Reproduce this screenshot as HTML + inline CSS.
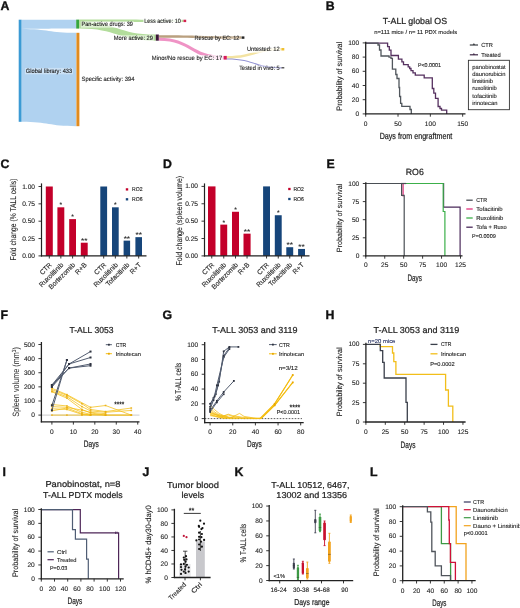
<!DOCTYPE html>
<html><head><meta charset="utf-8"><style>
html,body{margin:0;padding:0;background:#fff;overflow:hidden;}
svg{display:block;will-change:transform;}
text{font-family:"Liberation Sans", sans-serif;text-rendering:geometricPrecision;}
</style></head><body>
<svg width="520" height="608" viewBox="0 0 520 608">
<rect x="0" y="0" width="520" height="608" fill="#fff"/>
<g fill="#1f1f1f">
<text x="0.40" y="9.90" font-size="12.3" fill="#111" font-weight="bold" stroke="#111" stroke-width="0.35">A</text>
<path d="M21.50,19.70 C48.85,19.70 48.85,19.70 76.20,19.70 L76.20,28.60 C48.85,28.60 48.85,28.90 21.50,28.90 Z" fill="#b0d2f0" stroke="none" stroke-width="1" />
<path d="M21.50,28.90 C48.85,28.90 48.85,32.80 76.20,32.80 L76.20,126.20 C48.85,126.20 48.85,121.80 21.50,121.80 Z" fill="#b0d2f0" stroke="none" stroke-width="1" />
<rect x="18.70" y="19.70" width="2.80" height="102.10" fill="#3b9ad4" />
<rect x="76.20" y="19.60" width="2.80" height="9.00" fill="#36a53f" />
<rect x="76.40" y="32.80" width="3.00" height="93.40" fill="#e08b20" />
<path d="M79.00,19.60 C131.25,19.60 131.25,19.80 183.50,19.80 L183.50,22.10 C131.25,22.10 131.25,21.90 79.00,21.90 Z" fill="#b3dd9c" stroke="none" stroke-width="1" />
<path d="M79.00,21.90 C117.40,21.90 117.40,34.50 155.80,34.50 L155.80,40.70 C117.40,40.70 117.40,28.60 79.00,28.60 Z" fill="#b3dd9c" stroke="none" stroke-width="1" />
<path d="M159.00,35.20 C200.15,35.20 200.15,36.30 241.30,36.30 L241.30,38.80 C200.15,38.80 200.15,37.80 159.00,37.80 Z" fill="#b9a07f" stroke="none" stroke-width="1" />
<path d="M159.00,37.80 C191.40,37.80 191.40,55.90 223.80,55.90 L223.80,59.60 C191.40,59.60 191.40,40.70 159.00,40.70 Z" fill="#ef93c5" stroke="none" stroke-width="1" />
<path d="M226.80,55.90 C254.15,55.90 254.15,48.00 281.50,48.00 L281.50,50.50 C254.15,50.50 254.15,58.40 226.80,58.40 Z" fill="#f3e3a2" stroke="none" stroke-width="1" />
<path d="M226.80,58.40 C254.15,58.40 254.15,67.20 281.50,67.20 L281.50,68.40 C254.15,68.40 254.15,59.60 226.80,59.60 Z" fill="#9090d2" stroke="none" stroke-width="1" />
<rect x="183.50" y="19.70" width="2.70" height="2.40" fill="#d3204f" />
<rect x="155.80" y="34.50" width="3.00" height="6.20" fill="#3c1638" />
<rect x="241.60" y="36.40" width="2.80" height="2.40" fill="#222" />
<rect x="223.80" y="55.90" width="3.00" height="3.70" fill="#d61c5a" />
<rect x="281.50" y="48.00" width="2.80" height="2.50" fill="#f0c030" />
<rect x="281.50" y="67.20" width="2.80" height="1.20" fill="#333" />
<rect x="25.00" y="67.90" width="48.00" height="6.40" fill="#fff" fill-opacity="0.35"/>
<text x="49.00" y="72.80" font-size="6.2" text-anchor="middle" textLength="46.40" lengthAdjust="spacingAndGlyphs"  stroke="#1f1f1f" stroke-width="0.12">Global library: 433</text>
<text x="81.50" y="80.90" font-size="6.2" textLength="53.00" lengthAdjust="spacingAndGlyphs"  stroke="#1f1f1f" stroke-width="0.12">Specific activity: 394</text>
<rect x="80.70" y="21.30" width="53.10" height="6.40" fill="#fff" fill-opacity="0.55"/>
<text x="81.50" y="26.20" font-size="6.2" textLength="51.50" lengthAdjust="spacingAndGlyphs"  stroke="#1f1f1f" stroke-width="0.12">Pan-active drugs: 39</text>
<rect x="143.40" y="17.90" width="38.20" height="6.40" fill="#fff" fill-opacity="0.85"/>
<text x="144.20" y="22.80" font-size="6.2" textLength="36.60" lengthAdjust="spacingAndGlyphs"  stroke="#1f1f1f" stroke-width="0.12">Less active: 10</text>
<rect x="113.00" y="35.20" width="40.80" height="6.40" fill="#fff" fill-opacity="0.55"/>
<text x="113.80" y="40.10" font-size="6.2" textLength="39.20" lengthAdjust="spacingAndGlyphs"  stroke="#1f1f1f" stroke-width="0.12">More active: 29</text>
<rect x="193.80" y="34.70" width="46.40" height="6.40" fill="#fff" fill-opacity="0.25"/>
<text x="194.60" y="39.60" font-size="6.2" textLength="44.80" lengthAdjust="spacingAndGlyphs"  stroke="#1f1f1f" stroke-width="0.12">Rescue by EC: 12</text>
<rect x="151.00" y="55.20" width="72.10" height="6.40" fill="#fff" fill-opacity="0.8"/>
<text x="151.80" y="60.10" font-size="6.2" textLength="70.50" lengthAdjust="spacingAndGlyphs"  stroke="#1f1f1f" stroke-width="0.12">Minor/No rescue by EC: 17</text>
<rect x="246.10" y="46.30" width="34.40" height="6.40" fill="#fff" fill-opacity="0.8"/>
<text x="246.90" y="51.20" font-size="6.2" textLength="32.80" lengthAdjust="spacingAndGlyphs"  stroke="#1f1f1f" stroke-width="0.12">Untested: 12</text>
<rect x="238.40" y="64.90" width="42.10" height="6.40" fill="#fff" fill-opacity="0.35"/>
<text x="239.20" y="69.80" font-size="6.2" textLength="40.50" lengthAdjust="spacingAndGlyphs"  stroke="#1f1f1f" stroke-width="0.12">Tested in vivo: 5</text>
<text x="325.80" y="9.90" font-size="12.3" fill="#111" font-weight="bold" stroke="#111" stroke-width="0.35">B</text>
<text x="414.90" y="24.40" font-size="8.8" text-anchor="middle" textLength="64.50" lengthAdjust="spacingAndGlyphs"  stroke="#1f1f1f" stroke-width="0.22">T-ALL global OS</text>
<text x="415.70" y="33.90" font-size="5.7" text-anchor="middle" textLength="83.00" lengthAdjust="spacingAndGlyphs"  stroke="#1f1f1f" stroke-width="0.12">n=111 mice / n= 11 PDX models</text>
<polyline points="365.70,43.20 387.60,43.20 387.60,46.60 389.30,46.60 389.30,50.20 391.00,50.20 391.00,55.50 398.40,55.50 398.40,59.20 401.90,59.20 401.90,61.90 403.50,61.90 403.50,64.60 408.20,64.60 408.20,66.80 409.70,66.80 409.70,68.50 411.00,68.50 411.00,70.60 413.00,70.60 413.00,72.80 415.30,72.80 415.30,75.20 424.20,75.20 424.20,77.90 432.30,77.90 432.30,88.50 433.80,88.50 433.80,93.20 435.50,93.20 435.50,98.40 438.10,98.40 438.10,106.50 440.00,106.50 440.00,108.50 441.50,108.50 441.50,110.20 446.70,110.20 446.70,113.90" fill="none" stroke="#55305f" stroke-width="1.3" />
<polyline points="365.70,43.20 378.00,43.20 378.00,45.00 379.50,45.00 379.50,50.00 381.00,50.00 381.00,56.00 389.00,56.00 389.00,57.20 391.00,57.20 391.00,58.30 392.40,58.30 392.40,69.10 395.80,69.10 395.80,74.50 397.00,74.50 397.00,78.50 399.00,78.50 399.00,87.50 399.60,87.50 399.60,96.50 400.60,96.50 400.60,103.40 401.80,103.40 401.80,106.30 410.00,106.30 410.00,109.50 411.30,109.50 411.30,113.90" fill="none" stroke="#50565c" stroke-width="1.3" />
<line x1="365.70" y1="41.80" x2="365.70" y2="114.50" stroke="#222" stroke-width="1.3" />
<line x1="365.10" y1="113.90" x2="465.50" y2="113.90" stroke="#222" stroke-width="1.3" />
<line x1="362.70" y1="113.90" x2="365.70" y2="113.90" stroke="#222" stroke-width="0.9" />
<text x="359.20" y="115.98" font-size="6.6" text-anchor="end"  stroke="#1f1f1f" stroke-width="0.12">0</text>
<line x1="362.70" y1="99.70" x2="365.70" y2="99.70" stroke="#222" stroke-width="0.9" />
<text x="359.20" y="101.78" font-size="6.6" text-anchor="end"  stroke="#1f1f1f" stroke-width="0.12">20</text>
<line x1="362.70" y1="85.50" x2="365.70" y2="85.50" stroke="#222" stroke-width="0.9" />
<text x="359.20" y="87.58" font-size="6.6" text-anchor="end"  stroke="#1f1f1f" stroke-width="0.12">40</text>
<line x1="362.70" y1="71.30" x2="365.70" y2="71.30" stroke="#222" stroke-width="0.9" />
<text x="359.20" y="73.38" font-size="6.6" text-anchor="end"  stroke="#1f1f1f" stroke-width="0.12">60</text>
<line x1="362.70" y1="57.10" x2="365.70" y2="57.10" stroke="#222" stroke-width="0.9" />
<text x="359.20" y="59.18" font-size="6.6" text-anchor="end"  stroke="#1f1f1f" stroke-width="0.12">80</text>
<line x1="362.70" y1="42.90" x2="365.70" y2="42.90" stroke="#222" stroke-width="0.9" />
<text x="359.20" y="44.98" font-size="6.6" text-anchor="end"  stroke="#1f1f1f" stroke-width="0.12">100</text>
<line x1="365.70" y1="113.90" x2="365.70" y2="116.70" stroke="#222" stroke-width="0.9" />
<text x="365.70" y="125.78" font-size="6.6" text-anchor="middle"  stroke="#1f1f1f" stroke-width="0.12">0</text>
<line x1="398.02" y1="113.90" x2="398.02" y2="116.70" stroke="#222" stroke-width="0.9" />
<text x="398.02" y="125.78" font-size="6.6" text-anchor="middle"  stroke="#1f1f1f" stroke-width="0.12">50</text>
<line x1="430.35" y1="113.90" x2="430.35" y2="116.70" stroke="#222" stroke-width="0.9" />
<text x="430.35" y="125.78" font-size="6.6" text-anchor="middle"  stroke="#1f1f1f" stroke-width="0.12">100</text>
<line x1="462.67" y1="113.90" x2="462.67" y2="116.70" stroke="#222" stroke-width="0.9" />
<text x="462.67" y="125.78" font-size="6.6" text-anchor="middle"  stroke="#1f1f1f" stroke-width="0.12">150</text>
<text x="416.00" y="138.90" font-size="8.8" text-anchor="middle" textLength="72.70" lengthAdjust="spacingAndGlyphs"  stroke="#1f1f1f" stroke-width="0.22">Days from engraftment</text>
<text x="342.30" y="76.20" font-size="7.9" text-anchor="middle" textLength="69.00" lengthAdjust="spacingAndGlyphs" transform="rotate(-90 342.30 76.20)"  stroke="#1f1f1f" stroke-width="0.12">Probability of survival</text>
<text x="417.90" y="67.10" font-size="5.6" textLength="23.10" lengthAdjust="spacingAndGlyphs"  stroke="#1f1f1f" stroke-width="0.12">P&lt;0.0001</text>
<line x1="469.80" y1="45.00" x2="478.00" y2="45.00" stroke="#3a3d42" stroke-width="1.2" />
<path d="M472.7,45.00 L473.9,43.10 L475.1,45.00 Z" fill="#3a3d42" stroke="none" stroke-width="1" />
<line x1="469.80" y1="54.80" x2="478.00" y2="54.80" stroke="#3d2645" stroke-width="1.2" />
<path d="M472.7,54.80 L473.9,52.90 L475.1,54.80 Z" fill="#3d2645" stroke="none" stroke-width="1" />
<text x="481.20" y="46.60" font-size="5.9" textLength="11.60" lengthAdjust="spacingAndGlyphs"  stroke="#1f1f1f" stroke-width="0.12">CTR</text>
<text x="481.20" y="56.50" font-size="5.9" textLength="19.50" lengthAdjust="spacingAndGlyphs"  stroke="#1f1f1f" stroke-width="0.12">Treated</text>
<rect x="468.40" y="60.30" width="41.00" height="49.40" fill="none" stroke="#333" stroke-width="0.9"/>
<text x="472.30" y="68.50" font-size="5.8"  stroke="#1f1f1f" stroke-width="0.12">panobinostat</text>
<text x="472.30" y="75.75" font-size="5.8"  stroke="#1f1f1f" stroke-width="0.12">daunorubicin</text>
<text x="472.30" y="83.00" font-size="5.8"  stroke="#1f1f1f" stroke-width="0.12">linsitinib</text>
<text x="472.30" y="90.25" font-size="5.8"  stroke="#1f1f1f" stroke-width="0.12">ruxolitinib</text>
<text x="472.30" y="97.50" font-size="5.8"  stroke="#1f1f1f" stroke-width="0.12">tofacitinib</text>
<text x="472.30" y="104.75" font-size="5.8"  stroke="#1f1f1f" stroke-width="0.12">irinotecan</text>
<text x="0.60" y="167.70" font-size="12.3" fill="#111" font-weight="bold" stroke="#111" stroke-width="0.35">C</text>
<rect x="45.80" y="186.50" width="7.00" height="69.40" fill="#c3002a" />
<rect x="57.40" y="207.32" width="6.90" height="48.58" fill="#c3002a" />
<text x="60.85" y="207.22" font-size="7.0" text-anchor="middle" fill="#333" font-weight="bold" textLength="2.60" lengthAdjust="spacingAndGlyphs" >*</text>
<rect x="69.20" y="219.12" width="6.80" height="36.78" fill="#c3002a" />
<text x="72.60" y="219.02" font-size="7.0" text-anchor="middle" fill="#333" font-weight="bold" textLength="2.60" lengthAdjust="spacingAndGlyphs" >*</text>
<rect x="80.80" y="242.71" width="6.90" height="13.19" fill="#c3002a" />
<text x="84.25" y="242.61" font-size="7.0" text-anchor="middle" fill="#333" font-weight="bold" textLength="6.40" lengthAdjust="spacingAndGlyphs" >**</text>
<rect x="100.30" y="186.50" width="6.80" height="69.40" fill="#16457a" />
<rect x="112.00" y="207.32" width="6.70" height="48.58" fill="#16457a" />
<text x="115.35" y="207.22" font-size="7.0" text-anchor="middle" fill="#333" font-weight="bold" textLength="2.60" lengthAdjust="spacingAndGlyphs" >*</text>
<rect x="123.60" y="240.63" width="6.50" height="15.27" fill="#16457a" />
<text x="126.85" y="240.53" font-size="7.0" text-anchor="middle" fill="#333" font-weight="bold" textLength="6.40" lengthAdjust="spacingAndGlyphs" >**</text>
<rect x="135.40" y="237.16" width="6.60" height="18.74" fill="#16457a" />
<text x="138.70" y="237.06" font-size="7.0" text-anchor="middle" fill="#333" font-weight="bold" textLength="6.40" lengthAdjust="spacingAndGlyphs" >**</text>
<line x1="41.50" y1="183.40" x2="41.50" y2="256.50" stroke="#222" stroke-width="1.2" />
<line x1="40.90" y1="255.90" x2="146.50" y2="255.90" stroke="#222" stroke-width="1.2" />
<line x1="38.50" y1="255.90" x2="41.50" y2="255.90" stroke="#222" stroke-width="0.9" />
<text x="35.00" y="257.98" font-size="6.6" text-anchor="end"  stroke="#1f1f1f" stroke-width="0.12">0.00</text>
<line x1="38.50" y1="238.55" x2="41.50" y2="238.55" stroke="#222" stroke-width="0.9" />
<text x="35.00" y="240.63" font-size="6.6" text-anchor="end"  stroke="#1f1f1f" stroke-width="0.12">0.25</text>
<line x1="38.50" y1="221.20" x2="41.50" y2="221.20" stroke="#222" stroke-width="0.9" />
<text x="35.00" y="223.28" font-size="6.6" text-anchor="end"  stroke="#1f1f1f" stroke-width="0.12">0.50</text>
<line x1="38.50" y1="203.85" x2="41.50" y2="203.85" stroke="#222" stroke-width="0.9" />
<text x="35.00" y="205.93" font-size="6.6" text-anchor="end"  stroke="#1f1f1f" stroke-width="0.12">0.75</text>
<line x1="38.50" y1="186.50" x2="41.50" y2="186.50" stroke="#222" stroke-width="0.9" />
<text x="35.00" y="188.58" font-size="6.6" text-anchor="end"  stroke="#1f1f1f" stroke-width="0.12">1.00</text>
<line x1="49.30" y1="255.90" x2="49.30" y2="258.50" stroke="#222" stroke-width="0.9" />
<text x="52.30" y="265.40" font-size="6.8" text-anchor="end" transform="rotate(-45 52.30 265.40)"  stroke="#1f1f1f" stroke-width="0.12">CTR</text>
<line x1="60.85" y1="255.90" x2="60.85" y2="258.50" stroke="#222" stroke-width="0.9" />
<text x="63.85" y="265.40" font-size="6.8" text-anchor="end" transform="rotate(-45 63.85 265.40)"  stroke="#1f1f1f" stroke-width="0.12">Ruxolitinib</text>
<line x1="72.60" y1="255.90" x2="72.60" y2="258.50" stroke="#222" stroke-width="0.9" />
<text x="75.60" y="265.40" font-size="6.8" text-anchor="end" transform="rotate(-45 75.60 265.40)"  stroke="#1f1f1f" stroke-width="0.12">Bortezomib</text>
<line x1="84.25" y1="255.90" x2="84.25" y2="258.50" stroke="#222" stroke-width="0.9" />
<text x="87.25" y="265.40" font-size="6.8" text-anchor="end" transform="rotate(-45 87.25 265.40)"  stroke="#1f1f1f" stroke-width="0.12">R+B</text>
<line x1="103.70" y1="255.90" x2="103.70" y2="258.50" stroke="#222" stroke-width="0.9" />
<text x="106.70" y="265.40" font-size="6.8" text-anchor="end" transform="rotate(-45 106.70 265.40)"  stroke="#1f1f1f" stroke-width="0.12">CTR</text>
<line x1="115.35" y1="255.90" x2="115.35" y2="258.50" stroke="#222" stroke-width="0.9" />
<text x="118.35" y="265.40" font-size="6.8" text-anchor="end" transform="rotate(-45 118.35 265.40)"  stroke="#1f1f1f" stroke-width="0.12">Ruxolitinib</text>
<line x1="126.85" y1="255.90" x2="126.85" y2="258.50" stroke="#222" stroke-width="0.9" />
<text x="129.85" y="265.40" font-size="6.8" text-anchor="end" transform="rotate(-45 129.85 265.40)"  stroke="#1f1f1f" stroke-width="0.12">Tofacitinib</text>
<line x1="138.70" y1="255.90" x2="138.70" y2="258.50" stroke="#222" stroke-width="0.9" />
<text x="141.70" y="265.40" font-size="6.8" text-anchor="end" transform="rotate(-45 141.70 265.40)"  stroke="#1f1f1f" stroke-width="0.12">R+T</text>
<rect x="125.80" y="188.25" width="2.40" height="2.30" fill="#c3002a" />
<rect x="125.80" y="198.15" width="2.40" height="2.30" fill="#16457a" />
<text x="132.10" y="191.40" font-size="5.6" textLength="10.50" lengthAdjust="spacingAndGlyphs"  stroke="#1f1f1f" stroke-width="0.12">RO2</text>
<text x="132.10" y="201.30" font-size="5.6" textLength="10.50" lengthAdjust="spacingAndGlyphs"  stroke="#1f1f1f" stroke-width="0.12">RO6</text>
<text x="15.60" y="219.60" font-size="8.4" text-anchor="middle" textLength="82.00" lengthAdjust="spacingAndGlyphs" transform="rotate(-90 15.60 219.60)"  stroke="#1f1f1f" stroke-width="0.12">Fold change (% TALL cells)</text>
<text x="163.00" y="168.10" font-size="12.3" fill="#111" font-weight="bold" stroke="#111" stroke-width="0.35">D</text>
<rect x="208.00" y="186.40" width="7.50" height="69.50" fill="#c3002a" />
<rect x="220.30" y="224.62" width="6.90" height="31.28" fill="#c3002a" />
<text x="223.75" y="224.53" font-size="7.0" text-anchor="middle" fill="#333" font-weight="bold" textLength="2.60" lengthAdjust="spacingAndGlyphs" >*</text>
<rect x="232.00" y="211.77" width="7.00" height="44.13" fill="#c3002a" />
<text x="235.50" y="211.67" font-size="7.0" text-anchor="middle" fill="#333" font-weight="bold" textLength="2.60" lengthAdjust="spacingAndGlyphs" >*</text>
<rect x="243.50" y="233.66" width="7.10" height="22.24" fill="#c3002a" />
<text x="247.05" y="233.56" font-size="7.0" text-anchor="middle" fill="#333" font-weight="bold" textLength="6.40" lengthAdjust="spacingAndGlyphs" >**</text>
<rect x="263.10" y="186.40" width="6.90" height="69.50" fill="#16457a" />
<rect x="274.80" y="215.24" width="6.90" height="40.66" fill="#16457a" />
<text x="278.25" y="215.14" font-size="7.0" text-anchor="middle" fill="#333" font-weight="bold" textLength="2.60" lengthAdjust="spacingAndGlyphs" >*</text>
<rect x="286.30" y="247.21" width="6.90" height="8.69" fill="#16457a" />
<text x="289.75" y="247.11" font-size="7.0" text-anchor="middle" fill="#333" font-weight="bold" textLength="6.40" lengthAdjust="spacingAndGlyphs" >**</text>
<rect x="298.10" y="248.95" width="6.90" height="6.95" fill="#16457a" />
<text x="301.55" y="248.85" font-size="7.0" text-anchor="middle" fill="#333" font-weight="bold" textLength="6.40" lengthAdjust="spacingAndGlyphs" >**</text>
<line x1="204.50" y1="183.40" x2="204.50" y2="256.50" stroke="#222" stroke-width="1.2" />
<line x1="203.90" y1="255.90" x2="309.50" y2="255.90" stroke="#222" stroke-width="1.2" />
<line x1="201.50" y1="255.90" x2="204.50" y2="255.90" stroke="#222" stroke-width="0.9" />
<text x="198.00" y="257.98" font-size="6.6" text-anchor="end"  stroke="#1f1f1f" stroke-width="0.12">0.00</text>
<line x1="201.50" y1="238.53" x2="204.50" y2="238.53" stroke="#222" stroke-width="0.9" />
<text x="198.00" y="240.60" font-size="6.6" text-anchor="end"  stroke="#1f1f1f" stroke-width="0.12">0.25</text>
<line x1="201.50" y1="221.15" x2="204.50" y2="221.15" stroke="#222" stroke-width="0.9" />
<text x="198.00" y="223.23" font-size="6.6" text-anchor="end"  stroke="#1f1f1f" stroke-width="0.12">0.50</text>
<line x1="201.50" y1="203.78" x2="204.50" y2="203.78" stroke="#222" stroke-width="0.9" />
<text x="198.00" y="205.85" font-size="6.6" text-anchor="end"  stroke="#1f1f1f" stroke-width="0.12">0.75</text>
<line x1="201.50" y1="186.40" x2="204.50" y2="186.40" stroke="#222" stroke-width="0.9" />
<text x="198.00" y="188.48" font-size="6.6" text-anchor="end"  stroke="#1f1f1f" stroke-width="0.12">1.00</text>
<line x1="211.75" y1="255.90" x2="211.75" y2="258.50" stroke="#222" stroke-width="0.9" />
<text x="214.75" y="265.40" font-size="6.8" text-anchor="end" transform="rotate(-45 214.75 265.40)"  stroke="#1f1f1f" stroke-width="0.12">CTR</text>
<line x1="223.75" y1="255.90" x2="223.75" y2="258.50" stroke="#222" stroke-width="0.9" />
<text x="226.75" y="265.40" font-size="6.8" text-anchor="end" transform="rotate(-45 226.75 265.40)"  stroke="#1f1f1f" stroke-width="0.12">Ruxolitinib</text>
<line x1="235.50" y1="255.90" x2="235.50" y2="258.50" stroke="#222" stroke-width="0.9" />
<text x="238.50" y="265.40" font-size="6.8" text-anchor="end" transform="rotate(-45 238.50 265.40)"  stroke="#1f1f1f" stroke-width="0.12">Bortezomib</text>
<line x1="247.05" y1="255.90" x2="247.05" y2="258.50" stroke="#222" stroke-width="0.9" />
<text x="250.05" y="265.40" font-size="6.8" text-anchor="end" transform="rotate(-45 250.05 265.40)"  stroke="#1f1f1f" stroke-width="0.12">R+B</text>
<line x1="266.55" y1="255.90" x2="266.55" y2="258.50" stroke="#222" stroke-width="0.9" />
<text x="269.55" y="265.40" font-size="6.8" text-anchor="end" transform="rotate(-45 269.55 265.40)"  stroke="#1f1f1f" stroke-width="0.12">CTR</text>
<line x1="278.25" y1="255.90" x2="278.25" y2="258.50" stroke="#222" stroke-width="0.9" />
<text x="281.25" y="265.40" font-size="6.8" text-anchor="end" transform="rotate(-45 281.25 265.40)"  stroke="#1f1f1f" stroke-width="0.12">Ruxolitinib</text>
<line x1="289.75" y1="255.90" x2="289.75" y2="258.50" stroke="#222" stroke-width="0.9" />
<text x="292.75" y="265.40" font-size="6.8" text-anchor="end" transform="rotate(-45 292.75 265.40)"  stroke="#1f1f1f" stroke-width="0.12">Tofacitinib</text>
<line x1="301.55" y1="255.90" x2="301.55" y2="258.50" stroke="#222" stroke-width="0.9" />
<text x="304.55" y="265.40" font-size="6.8" text-anchor="end" transform="rotate(-45 304.55 265.40)"  stroke="#1f1f1f" stroke-width="0.12">R+T</text>
<rect x="288.20" y="187.85" width="2.40" height="2.30" fill="#c3002a" />
<rect x="288.20" y="197.85" width="2.40" height="2.30" fill="#16457a" />
<text x="293.40" y="191.00" font-size="5.6" textLength="10.50" lengthAdjust="spacingAndGlyphs"  stroke="#1f1f1f" stroke-width="0.12">RO2</text>
<text x="293.40" y="201.00" font-size="5.6" textLength="10.50" lengthAdjust="spacingAndGlyphs"  stroke="#1f1f1f" stroke-width="0.12">RO6</text>
<text x="181.60" y="220.60" font-size="8.4" text-anchor="middle" textLength="89.60" lengthAdjust="spacingAndGlyphs" transform="rotate(-90 181.60 220.60)"  stroke="#1f1f1f" stroke-width="0.12">Fold change (spleen volume)</text>
<text x="326.60" y="167.70" font-size="12.3" fill="#111" font-weight="bold" stroke="#111" stroke-width="0.35">E</text>
<text x="414.80" y="175.00" font-size="9.0" text-anchor="middle" textLength="18.00" lengthAdjust="spacingAndGlyphs"  stroke="#1f1f1f" stroke-width="0.22">RO6</text>
<polyline points="365.80,183.50 443.60,183.50 443.60,207.20 460.10,207.20 460.10,255.90" fill="none" stroke="#4a2a5a" stroke-width="1.2" />
<polyline points="365.80,183.50 443.20,183.50 443.20,211.50 444.90,211.50 444.90,255.90" fill="none" stroke="#3cb04a" stroke-width="1.2" />
<polyline points="365.80,183.50 403.10,183.50 403.10,196.60" fill="none" stroke="#e0307a" stroke-width="1.2" />
<polyline points="365.80,183.50 401.60,183.50 401.60,195.40 404.20,195.40 404.20,255.90" fill="none" stroke="#4a4f55" stroke-width="1.2" />
<line x1="401.00" y1="183.50" x2="406.30" y2="183.50" stroke="#4a4f55" stroke-width="1.2" />
<line x1="365.80" y1="182.30" x2="365.80" y2="256.50" stroke="#222" stroke-width="1.3" />
<line x1="365.20" y1="255.90" x2="462.50" y2="255.90" stroke="#222" stroke-width="1.3" />
<line x1="362.80" y1="255.90" x2="365.80" y2="255.90" stroke="#222" stroke-width="0.9" />
<text x="359.30" y="257.98" font-size="6.6" text-anchor="end"  stroke="#1f1f1f" stroke-width="0.12">0</text>
<line x1="362.80" y1="237.80" x2="365.80" y2="237.80" stroke="#222" stroke-width="0.9" />
<text x="359.30" y="239.88" font-size="6.6" text-anchor="end"  stroke="#1f1f1f" stroke-width="0.12">25</text>
<line x1="362.80" y1="219.70" x2="365.80" y2="219.70" stroke="#222" stroke-width="0.9" />
<text x="359.30" y="221.78" font-size="6.6" text-anchor="end"  stroke="#1f1f1f" stroke-width="0.12">50</text>
<line x1="362.80" y1="201.60" x2="365.80" y2="201.60" stroke="#222" stroke-width="0.9" />
<text x="359.30" y="203.68" font-size="6.6" text-anchor="end"  stroke="#1f1f1f" stroke-width="0.12">75</text>
<line x1="362.80" y1="183.50" x2="365.80" y2="183.50" stroke="#222" stroke-width="0.9" />
<text x="359.30" y="185.58" font-size="6.6" text-anchor="end"  stroke="#1f1f1f" stroke-width="0.12">100</text>
<line x1="365.80" y1="255.90" x2="365.80" y2="258.70" stroke="#222" stroke-width="0.9" />
<text x="365.80" y="267.38" font-size="6.6" text-anchor="middle"  stroke="#1f1f1f" stroke-width="0.12">0</text>
<line x1="384.74" y1="255.90" x2="384.74" y2="258.70" stroke="#222" stroke-width="0.9" />
<text x="384.74" y="267.38" font-size="6.6" text-anchor="middle"  stroke="#1f1f1f" stroke-width="0.12">25</text>
<line x1="403.68" y1="255.90" x2="403.68" y2="258.70" stroke="#222" stroke-width="0.9" />
<text x="403.68" y="267.38" font-size="6.6" text-anchor="middle"  stroke="#1f1f1f" stroke-width="0.12">50</text>
<line x1="422.62" y1="255.90" x2="422.62" y2="258.70" stroke="#222" stroke-width="0.9" />
<text x="422.62" y="267.38" font-size="6.6" text-anchor="middle"  stroke="#1f1f1f" stroke-width="0.12">75</text>
<line x1="441.56" y1="255.90" x2="441.56" y2="258.70" stroke="#222" stroke-width="0.9" />
<text x="441.56" y="267.38" font-size="6.6" text-anchor="middle"  stroke="#1f1f1f" stroke-width="0.12">100</text>
<line x1="460.50" y1="255.90" x2="460.50" y2="258.70" stroke="#222" stroke-width="0.9" />
<text x="460.50" y="267.38" font-size="6.6" text-anchor="middle"  stroke="#1f1f1f" stroke-width="0.12">125</text>
<text x="414.60" y="280.80" font-size="9.3" text-anchor="middle" textLength="14.40" lengthAdjust="spacingAndGlyphs"  stroke="#1f1f1f" stroke-width="0.22">Days</text>
<text x="341.60" y="218.00" font-size="7.6" text-anchor="middle" textLength="68.70" lengthAdjust="spacingAndGlyphs" transform="rotate(-90 341.60 218.00)"  stroke="#1f1f1f" stroke-width="0.12">Probability of survival</text>
<line x1="466.30" y1="200.20" x2="472.70" y2="200.20" stroke="#4a4f55" stroke-width="1.3" />
<text x="476.20" y="202.20" font-size="5.8" textLength="10.90" lengthAdjust="spacingAndGlyphs"  stroke="#1f1f1f" stroke-width="0.12">CTR</text>
<line x1="466.30" y1="209.00" x2="472.70" y2="209.00" stroke="#e0307a" stroke-width="1.3" />
<text x="476.20" y="211.00" font-size="5.8" textLength="26.50" lengthAdjust="spacingAndGlyphs"  stroke="#1f1f1f" stroke-width="0.12">Tofacitinib</text>
<line x1="466.30" y1="218.00" x2="472.70" y2="218.00" stroke="#3cb04a" stroke-width="1.3" />
<text x="476.20" y="220.00" font-size="5.8" textLength="27.10" lengthAdjust="spacingAndGlyphs"  stroke="#1f1f1f" stroke-width="0.12">Ruxolitinib</text>
<line x1="466.30" y1="227.20" x2="472.70" y2="227.20" stroke="#4a2a5a" stroke-width="1.3" />
<text x="476.20" y="229.20" font-size="5.8" textLength="30.50" lengthAdjust="spacingAndGlyphs"  stroke="#1f1f1f" stroke-width="0.12">Tofa + Ruxo</text>
<text x="472.10" y="237.90" font-size="5.6" textLength="23.70" lengthAdjust="spacingAndGlyphs"  stroke="#1f1f1f" stroke-width="0.12">P=0.0009</text>
<text x="0.60" y="318.70" font-size="12.3" fill="#111" font-weight="bold" stroke="#111" stroke-width="0.35">F</text>
<text x="91.50" y="333.30" font-size="8.7" text-anchor="middle" textLength="44.00" lengthAdjust="spacingAndGlyphs"  stroke="#1f1f1f" stroke-width="0.22">T-ALL 3053</text>
<line x1="41.40" y1="415.10" x2="139.50" y2="415.10" stroke="#a8a8a8" stroke-width="0.6" />
<polyline points="51.90,388.27 66.92,394.63 90.53,407.33 105.55,405.50 131.30,415.10" fill="none" stroke="#f4bd10" stroke-width="1.0" stroke-opacity="0.75"/>
<rect x="51.10" y="387.47" width="1.60" height="1.60" fill="#e9ad10" fill-opacity="0.85"/>
<rect x="66.12" y="393.83" width="1.60" height="1.60" fill="#e9ad10" fill-opacity="0.85"/>
<rect x="89.73" y="406.53" width="1.60" height="1.60" fill="#e9ad10" fill-opacity="0.85"/>
<rect x="104.75" y="404.70" width="1.60" height="1.60" fill="#e9ad10" fill-opacity="0.85"/>
<rect x="130.50" y="414.30" width="1.60" height="1.60" fill="#e9ad10" fill-opacity="0.85"/>
<polyline points="51.90,389.68 66.92,395.33 81.94,403.80 90.53,409.45 105.55,411.57 131.30,408.04" fill="none" stroke="#f4bd10" stroke-width="1.0" stroke-opacity="0.75"/>
<rect x="51.10" y="388.88" width="1.60" height="1.60" fill="#e9ad10" fill-opacity="0.85"/>
<rect x="66.12" y="394.53" width="1.60" height="1.60" fill="#e9ad10" fill-opacity="0.85"/>
<rect x="81.14" y="403.00" width="1.60" height="1.60" fill="#e9ad10" fill-opacity="0.85"/>
<rect x="89.73" y="408.65" width="1.60" height="1.60" fill="#e9ad10" fill-opacity="0.85"/>
<rect x="104.75" y="410.77" width="1.60" height="1.60" fill="#e9ad10" fill-opacity="0.85"/>
<rect x="130.50" y="407.24" width="1.60" height="1.60" fill="#e9ad10" fill-opacity="0.85"/>
<polyline points="51.90,391.10 66.92,396.74 81.94,406.63 90.53,410.86 105.55,412.28 131.30,410.44" fill="none" stroke="#f4bd10" stroke-width="1.0" stroke-opacity="0.75"/>
<rect x="51.10" y="390.30" width="1.60" height="1.60" fill="#e9ad10" fill-opacity="0.85"/>
<rect x="66.12" y="395.94" width="1.60" height="1.60" fill="#e9ad10" fill-opacity="0.85"/>
<rect x="81.14" y="405.83" width="1.60" height="1.60" fill="#e9ad10" fill-opacity="0.85"/>
<rect x="89.73" y="410.06" width="1.60" height="1.60" fill="#e9ad10" fill-opacity="0.85"/>
<rect x="104.75" y="411.48" width="1.60" height="1.60" fill="#e9ad10" fill-opacity="0.85"/>
<rect x="130.50" y="409.64" width="1.60" height="1.60" fill="#e9ad10" fill-opacity="0.85"/>
<polyline points="51.90,391.80 66.92,398.16 81.94,409.45 90.53,412.98 105.55,415.10 131.30,415.10" fill="none" stroke="#f4bd10" stroke-width="1.0" stroke-opacity="0.75"/>
<rect x="51.10" y="391.00" width="1.60" height="1.60" fill="#e9ad10" fill-opacity="0.85"/>
<rect x="66.12" y="397.36" width="1.60" height="1.60" fill="#e9ad10" fill-opacity="0.85"/>
<rect x="81.14" y="408.65" width="1.60" height="1.60" fill="#e9ad10" fill-opacity="0.85"/>
<rect x="89.73" y="412.18" width="1.60" height="1.60" fill="#e9ad10" fill-opacity="0.85"/>
<rect x="104.75" y="414.30" width="1.60" height="1.60" fill="#e9ad10" fill-opacity="0.85"/>
<rect x="130.50" y="414.30" width="1.60" height="1.60" fill="#e9ad10" fill-opacity="0.85"/>
<polyline points="51.90,404.51 66.92,405.92 81.94,412.28 90.53,414.39 105.55,415.10" fill="none" stroke="#f4bd10" stroke-width="1.0" stroke-opacity="0.75"/>
<rect x="51.10" y="403.71" width="1.60" height="1.60" fill="#e9ad10" fill-opacity="0.85"/>
<rect x="66.12" y="405.12" width="1.60" height="1.60" fill="#e9ad10" fill-opacity="0.85"/>
<rect x="81.14" y="411.48" width="1.60" height="1.60" fill="#e9ad10" fill-opacity="0.85"/>
<rect x="89.73" y="413.59" width="1.60" height="1.60" fill="#e9ad10" fill-opacity="0.85"/>
<rect x="104.75" y="414.30" width="1.60" height="1.60" fill="#e9ad10" fill-opacity="0.85"/>
<polyline points="51.90,406.63 66.92,407.33 81.94,410.16 90.53,412.28 105.55,413.69" fill="none" stroke="#f4bd10" stroke-width="1.0" stroke-opacity="0.75"/>
<rect x="51.10" y="405.83" width="1.60" height="1.60" fill="#e9ad10" fill-opacity="0.85"/>
<rect x="66.12" y="406.53" width="1.60" height="1.60" fill="#e9ad10" fill-opacity="0.85"/>
<rect x="81.14" y="409.36" width="1.60" height="1.60" fill="#e9ad10" fill-opacity="0.85"/>
<rect x="89.73" y="411.48" width="1.60" height="1.60" fill="#e9ad10" fill-opacity="0.85"/>
<rect x="104.75" y="412.89" width="1.60" height="1.60" fill="#e9ad10" fill-opacity="0.85"/>
<polyline points="51.90,408.75 66.92,409.45 81.94,414.39 90.53,415.10" fill="none" stroke="#f4bd10" stroke-width="1.0" stroke-opacity="0.75"/>
<rect x="51.10" y="407.95" width="1.60" height="1.60" fill="#e9ad10" fill-opacity="0.85"/>
<rect x="66.12" y="408.65" width="1.60" height="1.60" fill="#e9ad10" fill-opacity="0.85"/>
<rect x="81.14" y="413.59" width="1.60" height="1.60" fill="#e9ad10" fill-opacity="0.85"/>
<rect x="89.73" y="414.30" width="1.60" height="1.60" fill="#e9ad10" fill-opacity="0.85"/>
<polyline points="51.90,410.86 66.92,408.04 81.94,413.69 90.53,415.10" fill="none" stroke="#f4bd10" stroke-width="1.0" stroke-opacity="0.75"/>
<rect x="51.10" y="410.06" width="1.60" height="1.60" fill="#e9ad10" fill-opacity="0.85"/>
<rect x="66.12" y="407.24" width="1.60" height="1.60" fill="#e9ad10" fill-opacity="0.85"/>
<rect x="81.14" y="412.89" width="1.60" height="1.60" fill="#e9ad10" fill-opacity="0.85"/>
<rect x="89.73" y="414.30" width="1.60" height="1.60" fill="#e9ad10" fill-opacity="0.85"/>
<polyline points="51.90,415.10 66.92,415.10 81.94,415.10 90.53,415.10 105.55,415.10 131.30,415.10" fill="none" stroke="#f4bd10" stroke-width="1.0" stroke-opacity="0.75"/>
<rect x="51.10" y="414.30" width="1.60" height="1.60" fill="#e9ad10" fill-opacity="0.85"/>
<rect x="66.12" y="414.30" width="1.60" height="1.60" fill="#e9ad10" fill-opacity="0.85"/>
<rect x="81.14" y="414.30" width="1.60" height="1.60" fill="#e9ad10" fill-opacity="0.85"/>
<rect x="89.73" y="414.30" width="1.60" height="1.60" fill="#e9ad10" fill-opacity="0.85"/>
<rect x="104.75" y="414.30" width="1.60" height="1.60" fill="#e9ad10" fill-opacity="0.85"/>
<rect x="130.50" y="414.30" width="1.60" height="1.60" fill="#e9ad10" fill-opacity="0.85"/>
<polyline points="51.90,385.02 69.07,363.99 90.53,351.56" fill="none" stroke="#535d70" stroke-width="1.0" />
<rect x="50.90" y="384.02" width="2.00" height="2.00" fill="#2e3340" />
<rect x="68.07" y="362.99" width="2.00" height="2.00" fill="#2e3340" />
<rect x="89.53" y="350.56" width="2.00" height="2.00" fill="#2e3340" />
<polyline points="51.90,386.86 69.07,363.99 90.53,357.49" fill="none" stroke="#535d70" stroke-width="1.0" />
<rect x="50.90" y="385.86" width="2.00" height="2.00" fill="#2e3340" />
<rect x="68.07" y="362.99" width="2.00" height="2.00" fill="#2e3340" />
<rect x="89.53" y="356.49" width="2.00" height="2.00" fill="#2e3340" />
<polyline points="51.90,385.02 69.07,368.08 90.53,363.99" fill="none" stroke="#535d70" stroke-width="1.0" />
<rect x="50.90" y="384.02" width="2.00" height="2.00" fill="#2e3340" />
<rect x="68.07" y="367.08" width="2.00" height="2.00" fill="#2e3340" />
<rect x="89.53" y="362.99" width="2.00" height="2.00" fill="#2e3340" />
<polyline points="51.90,386.86 69.07,368.08 90.53,365.68" fill="none" stroke="#535d70" stroke-width="1.0" />
<rect x="50.90" y="385.86" width="2.00" height="2.00" fill="#2e3340" />
<rect x="68.07" y="367.08" width="2.00" height="2.00" fill="#2e3340" />
<rect x="89.53" y="364.68" width="2.00" height="2.00" fill="#2e3340" />
<polyline points="51.90,405.36 66.92,360.03" fill="none" stroke="#535d70" stroke-width="1.0" />
<rect x="50.90" y="404.36" width="2.00" height="2.00" fill="#2e3340" />
<rect x="65.92" y="359.03" width="2.00" height="2.00" fill="#2e3340" />
<polyline points="51.90,410.30 66.92,360.03" fill="none" stroke="#535d70" stroke-width="1.0" />
<rect x="50.90" y="409.30" width="2.00" height="2.00" fill="#2e3340" />
<rect x="65.92" y="359.03" width="2.00" height="2.00" fill="#2e3340" />
<line x1="41.40" y1="342.00" x2="41.40" y2="422.40" stroke="#222" stroke-width="1.3" />
<line x1="40.80" y1="421.80" x2="139.50" y2="421.80" stroke="#222" stroke-width="1.3" />
<line x1="38.40" y1="415.10" x2="41.40" y2="415.10" stroke="#222" stroke-width="0.9" />
<text x="34.90" y="417.18" font-size="6.6" text-anchor="end"  stroke="#1f1f1f" stroke-width="0.12">0</text>
<line x1="38.40" y1="400.98" x2="41.40" y2="400.98" stroke="#222" stroke-width="0.9" />
<text x="34.90" y="403.06" font-size="6.6" text-anchor="end"  stroke="#1f1f1f" stroke-width="0.12">100</text>
<line x1="38.40" y1="386.86" x2="41.40" y2="386.86" stroke="#222" stroke-width="0.9" />
<text x="34.90" y="388.94" font-size="6.6" text-anchor="end"  stroke="#1f1f1f" stroke-width="0.12">200</text>
<line x1="38.40" y1="372.74" x2="41.40" y2="372.74" stroke="#222" stroke-width="0.9" />
<text x="34.90" y="374.82" font-size="6.6" text-anchor="end"  stroke="#1f1f1f" stroke-width="0.12">300</text>
<line x1="38.40" y1="358.62" x2="41.40" y2="358.62" stroke="#222" stroke-width="0.9" />
<text x="34.90" y="360.70" font-size="6.6" text-anchor="end"  stroke="#1f1f1f" stroke-width="0.12">400</text>
<line x1="38.40" y1="344.50" x2="41.40" y2="344.50" stroke="#222" stroke-width="0.9" />
<text x="34.90" y="346.58" font-size="6.6" text-anchor="end"  stroke="#1f1f1f" stroke-width="0.12">500</text>
<line x1="51.90" y1="421.80" x2="51.90" y2="424.60" stroke="#222" stroke-width="0.9" />
<text x="51.90" y="433.58" font-size="6.6" text-anchor="middle"  stroke="#1f1f1f" stroke-width="0.12">0</text>
<line x1="73.36" y1="421.80" x2="73.36" y2="424.60" stroke="#222" stroke-width="0.9" />
<text x="73.36" y="433.58" font-size="6.6" text-anchor="middle"  stroke="#1f1f1f" stroke-width="0.12">10</text>
<line x1="94.82" y1="421.80" x2="94.82" y2="424.60" stroke="#222" stroke-width="0.9" />
<text x="94.82" y="433.58" font-size="6.6" text-anchor="middle"  stroke="#1f1f1f" stroke-width="0.12">20</text>
<line x1="116.28" y1="421.80" x2="116.28" y2="424.60" stroke="#222" stroke-width="0.9" />
<text x="116.28" y="433.58" font-size="6.6" text-anchor="middle"  stroke="#1f1f1f" stroke-width="0.12">30</text>
<line x1="137.74" y1="421.80" x2="137.74" y2="424.60" stroke="#222" stroke-width="0.9" />
<text x="137.74" y="433.58" font-size="6.6" text-anchor="middle"  stroke="#1f1f1f" stroke-width="0.12">40</text>
<text x="91.30" y="447.20" font-size="9.3" text-anchor="middle" textLength="15.00" lengthAdjust="spacingAndGlyphs"  stroke="#1f1f1f" stroke-width="0.22">Days</text>
<text x="119.20" y="407.40" font-size="8" text-anchor="middle" font-weight="bold" textLength="10.00" lengthAdjust="spacingAndGlyphs" >****</text>
<g transform="translate(19.0 381.9) rotate(-90) scale(0.79 1)"><text x="0" y="0" font-size="9.2" text-anchor="middle">Spleen volume (mm<tspan dy="-3.3" font-size="6">3</tspan><tspan dy="3.3">)</tspan></text></g>
<line x1="105.80" y1="344.70" x2="111.90" y2="344.70" stroke="#535d70" stroke-width="1.0" />
<rect x="108.00" y="343.80" width="1.80" height="1.80" fill="#2e3340" />
<line x1="105.80" y1="353.70" x2="111.90" y2="353.70" stroke="#f4bd10" stroke-width="1.0" />
<rect x="108.00" y="352.80" width="1.80" height="1.80" fill="#e8a800" />
<text x="115.70" y="346.70" font-size="5.7" textLength="10.60" lengthAdjust="spacingAndGlyphs"  stroke="#1f1f1f" stroke-width="0.12">CTR</text>
<text x="115.70" y="355.70" font-size="5.7" textLength="25.30" lengthAdjust="spacingAndGlyphs"  stroke="#1f1f1f" stroke-width="0.12">Irinotecan</text>
<text x="162.60" y="319.00" font-size="12.3" fill="#111" font-weight="bold" stroke="#111" stroke-width="0.35">G</text>
<text x="254.80" y="332.90" font-size="8.7" text-anchor="middle" textLength="85.30" lengthAdjust="spacingAndGlyphs"  stroke="#1f1f1f" stroke-width="0.22">T-ALL 3053 and 3119</text>
<line x1="204.70" y1="418.60" x2="302.00" y2="418.60" stroke="#333" stroke-width="0.8" stroke-dasharray="1.6,1.4"/>
<polyline points="210.10,407.52 213.50,411.21 218.03,414.17 223.69,416.38 229.35,417.12 235.01,417.86 244.07,418.60 255.40,418.60 261.06,417.86 274.65,403.82 292.77,375.00" fill="none" stroke="#f4bd10" stroke-width="1.0" stroke-opacity="0.72"/>
<polyline points="210.10,409.73 213.50,412.69 218.03,414.91 223.69,415.64 228.22,414.91 232.75,416.38 241.81,417.86 255.40,418.60 261.06,418.60 274.65,405.30 292.77,382.39" fill="none" stroke="#f4bd10" stroke-width="1.0" stroke-opacity="0.72"/>
<polyline points="210.10,412.69 214.63,414.17 219.16,415.64 223.69,417.12 229.35,417.86 238.41,417.86 244.07,418.60" fill="none" stroke="#f4bd10" stroke-width="1.0" stroke-opacity="0.72"/>
<polyline points="210.10,411.21 213.50,413.43 219.16,416.38 223.69,417.86 230.48,418.60 238.41,418.60" fill="none" stroke="#f4bd10" stroke-width="1.0" stroke-opacity="0.72"/>
<polyline points="210.10,414.17 214.63,415.64 219.16,417.12 223.69,417.86 232.75,417.86" fill="none" stroke="#f4bd10" stroke-width="1.0" stroke-opacity="0.72"/>
<polyline points="210.10,415.64 214.63,416.38 220.29,417.86 225.95,418.60" fill="none" stroke="#f4bd10" stroke-width="1.0" stroke-opacity="0.72"/>
<polyline points="210.10,405.30 214.63,409.73 219.16,413.43 223.69,415.64 228.22,417.12" fill="none" stroke="#f4bd10" stroke-width="1.0" stroke-opacity="0.72"/>
<polyline points="210.10,414.91 215.76,416.38 221.42,417.12 228.22,414.17 232.75,415.64 241.81,417.12 249.74,417.86 259.93,418.60" fill="none" stroke="#f4bd10" stroke-width="1.0" stroke-opacity="0.72"/>
<polyline points="210.10,413.43 215.76,414.91 221.42,416.38 230.48,417.86 235.01,415.64 239.54,413.43 244.07,416.38 253.13,417.86 261.06,418.60" fill="none" stroke="#f4bd10" stroke-width="1.0" stroke-opacity="0.72"/>
<polyline points="259.93,418.60 274.65,403.82 292.77,375.00" fill="none" stroke="#f4bd10" stroke-width="1.2" />
<polyline points="261.06,418.60 274.65,405.30 292.77,382.39" fill="none" stroke="#f4bd10" stroke-width="1.2" />
<rect x="273.75" y="402.92" width="1.80" height="1.80" fill="#e8a800" />
<rect x="291.87" y="374.10" width="1.80" height="1.80" fill="#e8a800" />
<rect x="273.75" y="404.40" width="1.80" height="1.80" fill="#e8a800" />
<rect x="291.87" y="381.49" width="1.80" height="1.80" fill="#e8a800" />
<polyline points="210.10,406.78 213.50,397.91 215.76,394.21 219.16,381.65 223.69,351.35 229.35,346.92 238.41,346.92" fill="none" stroke="#535d70" stroke-width="1.0" />
<rect x="209.20" y="405.88" width="1.80" height="1.80" fill="#2e3340" />
<rect x="212.60" y="397.01" width="1.80" height="1.80" fill="#2e3340" />
<rect x="214.86" y="393.31" width="1.80" height="1.80" fill="#2e3340" />
<rect x="218.26" y="380.75" width="1.80" height="1.80" fill="#2e3340" />
<rect x="222.79" y="350.45" width="1.80" height="1.80" fill="#2e3340" />
<rect x="228.45" y="346.02" width="1.80" height="1.80" fill="#2e3340" />
<rect x="237.51" y="346.02" width="1.80" height="1.80" fill="#2e3340" />
<polyline points="210.10,408.99 213.50,400.12 216.89,385.35 223.69,357.26 229.35,349.13" fill="none" stroke="#535d70" stroke-width="1.0" />
<rect x="209.20" y="408.09" width="1.80" height="1.80" fill="#2e3340" />
<rect x="212.60" y="399.23" width="1.80" height="1.80" fill="#2e3340" />
<rect x="215.99" y="384.45" width="1.80" height="1.80" fill="#2e3340" />
<rect x="222.79" y="356.36" width="1.80" height="1.80" fill="#2e3340" />
<rect x="228.45" y="348.23" width="1.80" height="1.80" fill="#2e3340" />
<polyline points="210.10,410.47 216.89,400.86 223.69,392.00 233.88,380.91" fill="none" stroke="#535d70" stroke-width="1.0" />
<rect x="209.20" y="409.57" width="1.80" height="1.80" fill="#2e3340" />
<rect x="215.99" y="399.96" width="1.80" height="1.80" fill="#2e3340" />
<rect x="222.79" y="391.10" width="1.80" height="1.80" fill="#2e3340" />
<rect x="232.98" y="380.01" width="1.80" height="1.80" fill="#2e3340" />
<polyline points="210.10,411.95 216.89,402.34 223.69,394.21" fill="none" stroke="#535d70" stroke-width="1.0" />
<rect x="209.20" y="411.05" width="1.80" height="1.80" fill="#2e3340" />
<rect x="215.99" y="401.44" width="1.80" height="1.80" fill="#2e3340" />
<rect x="222.79" y="393.31" width="1.80" height="1.80" fill="#2e3340" />
<polyline points="210.10,403.82 214.63,396.43 218.03,385.35 223.69,355.79 229.35,347.66" fill="none" stroke="#535d70" stroke-width="1.0" />
<rect x="209.20" y="402.92" width="1.80" height="1.80" fill="#2e3340" />
<rect x="213.73" y="395.53" width="1.80" height="1.80" fill="#2e3340" />
<rect x="217.13" y="384.45" width="1.80" height="1.80" fill="#2e3340" />
<rect x="222.79" y="354.89" width="1.80" height="1.80" fill="#2e3340" />
<rect x="228.45" y="346.76" width="1.80" height="1.80" fill="#2e3340" />
<line x1="204.70" y1="342.00" x2="204.70" y2="423.20" stroke="#222" stroke-width="1.3" />
<line x1="204.10" y1="422.60" x2="303.70" y2="422.60" stroke="#222" stroke-width="1.3" />
<line x1="201.70" y1="418.60" x2="204.70" y2="418.60" stroke="#222" stroke-width="0.9" />
<text x="198.20" y="420.68" font-size="6.6" text-anchor="end"  stroke="#1f1f1f" stroke-width="0.12">0</text>
<line x1="201.70" y1="403.82" x2="204.70" y2="403.82" stroke="#222" stroke-width="0.9" />
<text x="198.20" y="405.90" font-size="6.6" text-anchor="end"  stroke="#1f1f1f" stroke-width="0.12">20</text>
<line x1="201.70" y1="389.04" x2="204.70" y2="389.04" stroke="#222" stroke-width="0.9" />
<text x="198.20" y="391.12" font-size="6.6" text-anchor="end"  stroke="#1f1f1f" stroke-width="0.12">40</text>
<line x1="201.70" y1="374.26" x2="204.70" y2="374.26" stroke="#222" stroke-width="0.9" />
<text x="198.20" y="376.34" font-size="6.6" text-anchor="end"  stroke="#1f1f1f" stroke-width="0.12">60</text>
<line x1="201.70" y1="359.48" x2="204.70" y2="359.48" stroke="#222" stroke-width="0.9" />
<text x="198.20" y="361.56" font-size="6.6" text-anchor="end"  stroke="#1f1f1f" stroke-width="0.12">80</text>
<line x1="201.70" y1="344.70" x2="204.70" y2="344.70" stroke="#222" stroke-width="0.9" />
<text x="198.20" y="346.78" font-size="6.6" text-anchor="end"  stroke="#1f1f1f" stroke-width="0.12">100</text>
<line x1="210.10" y1="422.60" x2="210.10" y2="425.40" stroke="#222" stroke-width="0.9" />
<text x="210.10" y="433.98" font-size="6.6" text-anchor="middle"  stroke="#1f1f1f" stroke-width="0.12">0</text>
<line x1="232.75" y1="422.60" x2="232.75" y2="425.40" stroke="#222" stroke-width="0.9" />
<text x="232.75" y="433.98" font-size="6.6" text-anchor="middle"  stroke="#1f1f1f" stroke-width="0.12">20</text>
<line x1="255.40" y1="422.60" x2="255.40" y2="425.40" stroke="#222" stroke-width="0.9" />
<text x="255.40" y="433.98" font-size="6.6" text-anchor="middle"  stroke="#1f1f1f" stroke-width="0.12">40</text>
<line x1="278.05" y1="422.60" x2="278.05" y2="425.40" stroke="#222" stroke-width="0.9" />
<text x="278.05" y="433.98" font-size="6.6" text-anchor="middle"  stroke="#1f1f1f" stroke-width="0.12">60</text>
<line x1="300.70" y1="422.60" x2="300.70" y2="425.40" stroke="#222" stroke-width="0.9" />
<text x="300.70" y="433.98" font-size="6.6" text-anchor="middle"  stroke="#1f1f1f" stroke-width="0.12">80</text>
<text x="254.40" y="447.00" font-size="9.3" text-anchor="middle" textLength="14.80" lengthAdjust="spacingAndGlyphs"  stroke="#1f1f1f" stroke-width="0.22">Days</text>
<text x="181.40" y="381.90" font-size="8.3" text-anchor="middle" textLength="38.20" lengthAdjust="spacingAndGlyphs" transform="rotate(-90 181.40 381.90)"  stroke="#1f1f1f" stroke-width="0.12">% T-ALL cells</text>
<line x1="269.00" y1="344.60" x2="276.70" y2="344.60" stroke="#535d70" stroke-width="1.0" />
<rect x="272.00" y="343.70" width="1.80" height="1.80" fill="#2e3340" />
<line x1="269.00" y1="353.80" x2="276.70" y2="353.80" stroke="#f4bd10" stroke-width="1.0" />
<rect x="272.00" y="352.90" width="1.80" height="1.80" fill="#e8a800" />
<text x="278.90" y="346.60" font-size="5.7" textLength="10.80" lengthAdjust="spacingAndGlyphs"  stroke="#1f1f1f" stroke-width="0.12">CTR</text>
<text x="278.90" y="355.80" font-size="5.7" textLength="25.20" lengthAdjust="spacingAndGlyphs"  stroke="#1f1f1f" stroke-width="0.12">Irinotecan</text>
<text x="288.20" y="369.90" font-size="5.7" text-anchor="middle" textLength="19.10" lengthAdjust="spacingAndGlyphs"  stroke="#1f1f1f" stroke-width="0.12">n=3/12</text>
<text x="294.90" y="410.30" font-size="8" text-anchor="middle" font-weight="bold" textLength="10.80" lengthAdjust="spacingAndGlyphs" >****</text>
<text x="276.70" y="414.30" font-size="5.7" textLength="23.40" lengthAdjust="spacingAndGlyphs"  stroke="#1f1f1f" stroke-width="0.12">P&lt;0.0001</text>
<text x="325.60" y="319.20" font-size="12.3" fill="#111" font-weight="bold" stroke="#111" stroke-width="0.35">H</text>
<text x="416.50" y="332.60" font-size="8.7" text-anchor="middle" textLength="85.80" lengthAdjust="spacingAndGlyphs"  stroke="#1f1f1f" stroke-width="0.22">T-ALL 3053 and 3119</text>
<polyline points="379.50,344.40 380.30,344.40 380.30,346.70 392.50,346.70 392.50,353.00 393.80,353.00 393.80,361.60 395.90,361.60 395.90,374.40 445.60,374.40 445.60,390.00 448.40,390.00 448.40,406.10 452.80,406.10 452.80,422.00" fill="none" stroke="#f2be1a" stroke-width="1.3" />
<polyline points="365.90,344.40 380.30,344.40 380.30,350.60 382.70,350.60 382.70,362.30 384.20,362.30 384.20,378.00 406.00,378.00 406.00,402.40 407.30,402.40 407.30,422.00" fill="none" stroke="#3a3f4a" stroke-width="1.3" />
<line x1="365.90" y1="342.80" x2="365.90" y2="422.60" stroke="#222" stroke-width="1.3" />
<line x1="365.30" y1="422.00" x2="465.60" y2="422.00" stroke="#222" stroke-width="1.3" />
<line x1="362.90" y1="422.00" x2="365.90" y2="422.00" stroke="#222" stroke-width="0.9" />
<text x="359.40" y="424.08" font-size="6.6" text-anchor="end"  stroke="#1f1f1f" stroke-width="0.12">0</text>
<line x1="362.90" y1="402.60" x2="365.90" y2="402.60" stroke="#222" stroke-width="0.9" />
<text x="359.40" y="404.68" font-size="6.6" text-anchor="end"  stroke="#1f1f1f" stroke-width="0.12">25</text>
<line x1="362.90" y1="383.20" x2="365.90" y2="383.20" stroke="#222" stroke-width="0.9" />
<text x="359.40" y="385.28" font-size="6.6" text-anchor="end"  stroke="#1f1f1f" stroke-width="0.12">50</text>
<line x1="362.90" y1="363.80" x2="365.90" y2="363.80" stroke="#222" stroke-width="0.9" />
<text x="359.40" y="365.88" font-size="6.6" text-anchor="end"  stroke="#1f1f1f" stroke-width="0.12">75</text>
<line x1="362.90" y1="344.40" x2="365.90" y2="344.40" stroke="#222" stroke-width="0.9" />
<text x="359.40" y="346.48" font-size="6.6" text-anchor="end"  stroke="#1f1f1f" stroke-width="0.12">100</text>
<line x1="365.90" y1="422.00" x2="365.90" y2="424.80" stroke="#222" stroke-width="0.9" />
<text x="365.90" y="434.08" font-size="6.6" text-anchor="middle"  stroke="#1f1f1f" stroke-width="0.12">0</text>
<line x1="385.31" y1="422.00" x2="385.31" y2="424.80" stroke="#222" stroke-width="0.9" />
<text x="385.31" y="434.08" font-size="6.6" text-anchor="middle"  stroke="#1f1f1f" stroke-width="0.12">25</text>
<line x1="404.72" y1="422.00" x2="404.72" y2="424.80" stroke="#222" stroke-width="0.9" />
<text x="404.72" y="434.08" font-size="6.6" text-anchor="middle"  stroke="#1f1f1f" stroke-width="0.12">50</text>
<line x1="424.13" y1="422.00" x2="424.13" y2="424.80" stroke="#222" stroke-width="0.9" />
<text x="424.13" y="434.08" font-size="6.6" text-anchor="middle"  stroke="#1f1f1f" stroke-width="0.12">75</text>
<line x1="443.54" y1="422.00" x2="443.54" y2="424.80" stroke="#222" stroke-width="0.9" />
<text x="443.54" y="434.08" font-size="6.6" text-anchor="middle"  stroke="#1f1f1f" stroke-width="0.12">100</text>
<line x1="462.95" y1="422.00" x2="462.95" y2="424.80" stroke="#222" stroke-width="0.9" />
<text x="462.95" y="434.08" font-size="6.6" text-anchor="middle"  stroke="#1f1f1f" stroke-width="0.12">125</text>
<text x="408.00" y="447.50" font-size="9.3" text-anchor="middle" textLength="14.80" lengthAdjust="spacingAndGlyphs"  stroke="#1f1f1f" stroke-width="0.22">Days</text>
<text x="342.00" y="381.85" font-size="7.7" text-anchor="middle" textLength="69.00" lengthAdjust="spacingAndGlyphs" transform="rotate(-90 342.00 381.85)"  stroke="#1f1f1f" stroke-width="0.12">Probability of survival</text>
<text x="368.00" y="343.20" font-size="5.6" fill="#2b3566" textLength="27.40" lengthAdjust="spacingAndGlyphs"  stroke="#2b3566" stroke-width="0.12">n=20 mice</text>
<line x1="430.50" y1="344.40" x2="437.50" y2="344.40" stroke="#3a3f4a" stroke-width="1.3" />
<line x1="430.50" y1="353.80" x2="437.50" y2="353.80" stroke="#f2be1a" stroke-width="1.3" />
<text x="440.90" y="346.40" font-size="5.7" textLength="10.40" lengthAdjust="spacingAndGlyphs"  stroke="#1f1f1f" stroke-width="0.12">CTR</text>
<text x="440.90" y="355.80" font-size="5.7" textLength="25.10" lengthAdjust="spacingAndGlyphs"  stroke="#1f1f1f" stroke-width="0.12">Irinotecan</text>
<text x="430.20" y="365.60" font-size="5.7" textLength="24.50" lengthAdjust="spacingAndGlyphs"  stroke="#1f1f1f" stroke-width="0.12">P=0.0002</text>
<text x="2.60" y="475.80" font-size="12.3" fill="#111" font-weight="bold" stroke="#111" stroke-width="0.35">I</text>
<text x="82.90" y="487.30" font-size="8.7" text-anchor="middle" textLength="75.00" lengthAdjust="spacingAndGlyphs"  stroke="#1f1f1f" stroke-width="0.22">Panobinostat, n=8</text>
<text x="82.90" y="497.90" font-size="8.7" text-anchor="middle" textLength="79.60" lengthAdjust="spacingAndGlyphs"  stroke="#1f1f1f" stroke-width="0.22">T-ALL PDTX models</text>
<polyline points="41.30,509.60 80.30,509.60 80.30,532.80 118.60,532.80 118.60,578.80" fill="none" stroke="#4e2658" stroke-width="1.2" />
<polyline points="41.30,509.60 72.50,509.60 72.50,529.60 75.40,529.60 75.40,539.10 86.60,539.10 86.60,559.20 88.30,559.20 88.30,578.80" fill="none" stroke="#4f5d74" stroke-width="1.2" />
<line x1="115.50" y1="531.60" x2="115.50" y2="534.00" stroke="#4e2658" stroke-width="0.8" />
<line x1="117.00" y1="531.60" x2="117.00" y2="534.00" stroke="#4e2658" stroke-width="0.8" />
<line x1="41.30" y1="508.20" x2="41.30" y2="579.40" stroke="#222" stroke-width="1.3" />
<line x1="40.70" y1="578.80" x2="123.70" y2="578.80" stroke="#222" stroke-width="1.3" />
<line x1="38.30" y1="578.80" x2="41.30" y2="578.80" stroke="#222" stroke-width="0.9" />
<text x="34.80" y="580.88" font-size="6.6" text-anchor="end"  stroke="#1f1f1f" stroke-width="0.12">0</text>
<line x1="38.30" y1="564.94" x2="41.30" y2="564.94" stroke="#222" stroke-width="0.9" />
<text x="34.80" y="567.02" font-size="6.6" text-anchor="end"  stroke="#1f1f1f" stroke-width="0.12">20</text>
<line x1="38.30" y1="551.08" x2="41.30" y2="551.08" stroke="#222" stroke-width="0.9" />
<text x="34.80" y="553.16" font-size="6.6" text-anchor="end"  stroke="#1f1f1f" stroke-width="0.12">40</text>
<line x1="38.30" y1="537.22" x2="41.30" y2="537.22" stroke="#222" stroke-width="0.9" />
<text x="34.80" y="539.30" font-size="6.6" text-anchor="end"  stroke="#1f1f1f" stroke-width="0.12">60</text>
<line x1="38.30" y1="523.36" x2="41.30" y2="523.36" stroke="#222" stroke-width="0.9" />
<text x="34.80" y="525.44" font-size="6.6" text-anchor="end"  stroke="#1f1f1f" stroke-width="0.12">80</text>
<line x1="38.30" y1="509.50" x2="41.30" y2="509.50" stroke="#222" stroke-width="0.9" />
<text x="34.80" y="511.58" font-size="6.6" text-anchor="end"  stroke="#1f1f1f" stroke-width="0.12">100</text>
<line x1="41.30" y1="578.80" x2="41.30" y2="581.60" stroke="#222" stroke-width="0.9" />
<line x1="54.50" y1="578.80" x2="54.50" y2="581.60" stroke="#222" stroke-width="0.9" />
<line x1="67.70" y1="578.80" x2="67.70" y2="581.60" stroke="#222" stroke-width="0.9" />
<line x1="80.90" y1="578.80" x2="80.90" y2="581.60" stroke="#222" stroke-width="0.9" />
<line x1="94.10" y1="578.80" x2="94.10" y2="581.60" stroke="#222" stroke-width="0.9" />
<line x1="107.30" y1="578.80" x2="107.30" y2="581.60" stroke="#222" stroke-width="0.9" />
<line x1="120.50" y1="578.80" x2="120.50" y2="581.60" stroke="#222" stroke-width="0.9" />
<text x="41.30" y="591.28" font-size="6.6" text-anchor="middle"  stroke="#1f1f1f" stroke-width="0.12">0</text>
<text x="52.30" y="591.28" font-size="6.6" text-anchor="middle"  stroke="#1f1f1f" stroke-width="0.12">20</text>
<text x="64.40" y="591.28" font-size="6.6" text-anchor="middle"  stroke="#1f1f1f" stroke-width="0.12">40</text>
<text x="77.00" y="591.28" font-size="6.6" text-anchor="middle"  stroke="#1f1f1f" stroke-width="0.12">60</text>
<text x="90.00" y="591.28" font-size="6.6" text-anchor="middle"  stroke="#1f1f1f" stroke-width="0.12">80</text>
<text x="104.60" y="591.28" font-size="6.6" text-anchor="middle"  stroke="#1f1f1f" stroke-width="0.12">100</text>
<text x="120.60" y="591.28" font-size="6.6" text-anchor="middle"  stroke="#1f1f1f" stroke-width="0.12">120</text>
<text x="74.90" y="603.70" font-size="9.3" text-anchor="middle" textLength="14.80" lengthAdjust="spacingAndGlyphs"  stroke="#1f1f1f" stroke-width="0.22">Days</text>
<text x="17.60" y="543.00" font-size="8.0" text-anchor="middle" textLength="68.00" lengthAdjust="spacingAndGlyphs" transform="rotate(-90 17.60 543.00)"  stroke="#1f1f1f" stroke-width="0.12">Probability of survival</text>
<line x1="47.50" y1="551.80" x2="53.80" y2="551.80" stroke="#4f5d74" stroke-width="1.2" />
<line x1="47.50" y1="559.70" x2="53.80" y2="559.70" stroke="#4e2658" stroke-width="1.2" />
<text x="57.00" y="553.80" font-size="5.7" textLength="9.50" lengthAdjust="spacingAndGlyphs"  stroke="#1f1f1f" stroke-width="0.12">Ctrl</text>
<text x="57.00" y="561.70" font-size="5.7" textLength="19.50" lengthAdjust="spacingAndGlyphs"  stroke="#1f1f1f" stroke-width="0.12">Treated</text>
<text x="49.90" y="570.20" font-size="5.6" textLength="17.50" lengthAdjust="spacingAndGlyphs"  stroke="#1f1f1f" stroke-width="0.12">P=0.03</text>
<text x="142.60" y="476.00" font-size="12.3" fill="#111" font-weight="bold" stroke="#111" stroke-width="0.35">J</text>
<text x="193.00" y="487.50" font-size="8.7" text-anchor="middle" textLength="52.00" lengthAdjust="spacingAndGlyphs"  stroke="#1f1f1f" stroke-width="0.22">Tumor blood</text>
<text x="192.80" y="498.10" font-size="8.7" text-anchor="middle" textLength="22.50" lengthAdjust="spacingAndGlyphs"  stroke="#1f1f1f" stroke-width="0.22">levels</text>
<rect x="179.00" y="563.98" width="11.60" height="13.52" fill="#e6e6e8" />
<rect x="196.00" y="541.30" width="8.80" height="36.20" fill="#c8c8cc" />
<line x1="185.20" y1="551.20" x2="185.20" y2="574.00" stroke="#222" stroke-width="0.8" />
<line x1="183.00" y1="551.20" x2="187.40" y2="551.20" stroke="#222" stroke-width="0.8" />
<line x1="200.40" y1="531.00" x2="200.40" y2="551.00" stroke="#222" stroke-width="0.8" />
<circle cx="183.80" cy="557.60" r="1.1" fill="#111" />
<circle cx="186.00" cy="556.20" r="1.1" fill="#111" />
<circle cx="184.20" cy="559.80" r="1.1" fill="#111" />
<circle cx="186.50" cy="559.40" r="1.1" fill="#111" />
<circle cx="185.60" cy="561.70" r="1.1" fill="#111" />
<circle cx="181.00" cy="564.40" r="1.1" fill="#111" />
<circle cx="183.80" cy="563.90" r="1.1" fill="#111" />
<circle cx="186.90" cy="564.80" r="1.1" fill="#111" />
<circle cx="181.00" cy="567.10" r="1.1" fill="#111" />
<circle cx="185.60" cy="566.60" r="1.1" fill="#111" />
<circle cx="188.70" cy="567.50" r="1.1" fill="#111" />
<circle cx="181.50" cy="569.80" r="1.1" fill="#111" />
<circle cx="185.10" cy="569.30" r="1.1" fill="#111" />
<circle cx="188.70" cy="571.60" r="1.1" fill="#111" />
<circle cx="181.00" cy="573.90" r="1.1" fill="#111" />
<circle cx="185.60" cy="573.00" r="1.1" fill="#111" />
<circle cx="183.80" cy="571.60" r="1.1" fill="#111" />
<circle cx="200.30" cy="520.70" r="1.1" fill="#111" />
<circle cx="204.00" cy="523.70" r="1.1" fill="#111" />
<circle cx="198.80" cy="525.90" r="1.1" fill="#111" />
<circle cx="202.50" cy="528.10" r="1.1" fill="#111" />
<circle cx="199.10" cy="526.80" r="1.1" fill="#111" />
<circle cx="201.40" cy="529.10" r="1.1" fill="#111" />
<circle cx="199.10" cy="532.70" r="1.1" fill="#111" />
<circle cx="201.90" cy="534.00" r="1.1" fill="#111" />
<circle cx="199.10" cy="536.80" r="1.1" fill="#111" />
<circle cx="201.40" cy="537.20" r="1.1" fill="#111" />
<circle cx="196.40" cy="540.40" r="1.1" fill="#111" />
<circle cx="199.10" cy="539.50" r="1.1" fill="#111" />
<circle cx="204.10" cy="539.90" r="1.1" fill="#111" />
<circle cx="201.00" cy="541.70" r="1.1" fill="#111" />
<circle cx="199.10" cy="544.50" r="1.1" fill="#111" />
<circle cx="201.90" cy="546.70" r="1.1" fill="#111" />
<circle cx="199.10" cy="549.00" r="1.1" fill="#111" />
<circle cx="183.80" cy="535.90" r="1.1" fill="#c0163a" />
<circle cx="186.50" cy="537.20" r="1.1" fill="#c0163a" />
<line x1="174.40" y1="508.80" x2="174.40" y2="578.10" stroke="#222" stroke-width="1.3" />
<line x1="173.80" y1="577.50" x2="210.60" y2="577.50" stroke="#222" stroke-width="1.3" />
<line x1="171.40" y1="577.50" x2="174.40" y2="577.50" stroke="#222" stroke-width="0.9" />
<text x="167.90" y="579.58" font-size="6.6" text-anchor="end"  stroke="#1f1f1f" stroke-width="0.12">0</text>
<line x1="171.40" y1="563.98" x2="174.40" y2="563.98" stroke="#222" stroke-width="0.9" />
<text x="167.90" y="566.06" font-size="6.6" text-anchor="end"  stroke="#1f1f1f" stroke-width="0.12">20</text>
<line x1="171.40" y1="550.46" x2="174.40" y2="550.46" stroke="#222" stroke-width="0.9" />
<text x="167.90" y="552.54" font-size="6.6" text-anchor="end"  stroke="#1f1f1f" stroke-width="0.12">40</text>
<line x1="171.40" y1="536.94" x2="174.40" y2="536.94" stroke="#222" stroke-width="0.9" />
<text x="167.90" y="539.02" font-size="6.6" text-anchor="end"  stroke="#1f1f1f" stroke-width="0.12">60</text>
<line x1="171.40" y1="523.42" x2="174.40" y2="523.42" stroke="#222" stroke-width="0.9" />
<text x="167.90" y="525.50" font-size="6.6" text-anchor="end"  stroke="#1f1f1f" stroke-width="0.12">80</text>
<line x1="171.40" y1="509.90" x2="174.40" y2="509.90" stroke="#222" stroke-width="0.9" />
<text x="167.90" y="511.98" font-size="6.6" text-anchor="end"  stroke="#1f1f1f" stroke-width="0.12">100</text>
<line x1="185.00" y1="577.50" x2="185.00" y2="580.30" stroke="#222" stroke-width="0.9" />
<line x1="200.40" y1="577.50" x2="200.40" y2="580.30" stroke="#222" stroke-width="0.9" />
<text x="186.60" y="585.00" font-size="6.5" text-anchor="end" textLength="22.00" lengthAdjust="spacingAndGlyphs" transform="rotate(-45 186.60 585.00)"  stroke="#1f1f1f" stroke-width="0.12">Treated</text>
<text x="202.60" y="585.00" font-size="6.5" text-anchor="end" textLength="12.50" lengthAdjust="spacingAndGlyphs" transform="rotate(-45 202.60 585.00)"  stroke="#1f1f1f" stroke-width="0.12">Ctrl</text>
<line x1="183.80" y1="513.40" x2="200.80" y2="513.40" stroke="#222" stroke-width="0.9" />
<text x="191.60" y="513.40" font-size="7.5" text-anchor="middle" font-weight="bold" textLength="5.60" lengthAdjust="spacingAndGlyphs" >**</text>
<text x="151.00" y="544.40" font-size="7.8" text-anchor="middle" textLength="78.00" lengthAdjust="spacingAndGlyphs" transform="rotate(-90 151.00 544.40)"  stroke="#1f1f1f" stroke-width="0.12">% hCD45+ day30-day0</text>
<text x="234.60" y="476.30" font-size="12.3" fill="#111" font-weight="bold" stroke="#111" stroke-width="0.35">K</text>
<text x="310.40" y="488.00" font-size="8.6" text-anchor="middle" textLength="78.20" lengthAdjust="spacingAndGlyphs"  stroke="#1f1f1f" stroke-width="0.22">T-ALL 10512, 6467,</text>
<text x="311.70" y="498.20" font-size="8.6" text-anchor="middle" textLength="70.70" lengthAdjust="spacingAndGlyphs"  stroke="#1f1f1f" stroke-width="0.22">13002 and 13356</text>
<line x1="293.85" y1="559.00" x2="293.85" y2="569.00" stroke="#3d4050" stroke-width="0.9" />
<line x1="292.85" y1="559.00" x2="294.85" y2="559.00" stroke="#3d4050" stroke-width="0.9" />
<line x1="292.85" y1="569.00" x2="294.85" y2="569.00" stroke="#3d4050" stroke-width="0.9" />
<rect x="292.80" y="562.70" width="2.10" height="5.80" fill="#3d4050" rx="0.8"/>
<line x1="292.80" y1="565.50" x2="294.90" y2="565.50" stroke="#333" stroke-width="0.7" stroke-opacity="0.6"/>
<line x1="297.95" y1="565.30" x2="297.95" y2="579.50" stroke="#3d9a45" stroke-width="0.9" />
<line x1="296.95" y1="565.30" x2="298.95" y2="565.30" stroke="#3d9a45" stroke-width="0.9" />
<line x1="296.95" y1="579.50" x2="298.95" y2="579.50" stroke="#3d9a45" stroke-width="0.9" />
<rect x="296.80" y="567.30" width="2.30" height="11.60" fill="#3d9a45" rx="0.8"/>
<line x1="296.80" y1="577.50" x2="299.10" y2="577.50" stroke="#333" stroke-width="0.7" stroke-opacity="0.6"/>
<line x1="302.85" y1="561.30" x2="302.85" y2="574.00" stroke="#c8102e" stroke-width="0.9" />
<line x1="301.85" y1="561.30" x2="303.85" y2="561.30" stroke="#c8102e" stroke-width="0.9" />
<line x1="301.85" y1="574.00" x2="303.85" y2="574.00" stroke="#c8102e" stroke-width="0.9" />
<rect x="301.70" y="562.40" width="2.30" height="11.30" fill="#c8102e" rx="0.8"/>
<line x1="307.35" y1="562.10" x2="307.35" y2="579.00" stroke="#f2a31e" stroke-width="0.9" />
<line x1="306.35" y1="562.10" x2="308.35" y2="562.10" stroke="#f2a31e" stroke-width="0.9" />
<line x1="306.35" y1="579.00" x2="308.35" y2="579.00" stroke="#f2a31e" stroke-width="0.9" />
<rect x="306.00" y="567.90" width="2.70" height="10.40" fill="#f2a31e" rx="0.8"/>
<line x1="306.00" y1="573.50" x2="308.70" y2="573.50" stroke="#333" stroke-width="0.7" stroke-opacity="0.6"/>
<line x1="315.30" y1="510.30" x2="315.30" y2="532.80" stroke="#3d4050" stroke-width="0.9" />
<line x1="314.30" y1="510.30" x2="316.30" y2="510.30" stroke="#3d4050" stroke-width="0.9" />
<line x1="314.30" y1="532.80" x2="316.30" y2="532.80" stroke="#3d4050" stroke-width="0.9" />
<rect x="314.20" y="518.90" width="2.20" height="4.30" fill="#3d4050" rx="0.8"/>
<line x1="314.20" y1="521.00" x2="316.40" y2="521.00" stroke="#333" stroke-width="0.7" stroke-opacity="0.6"/>
<line x1="320.00" y1="514.10" x2="320.00" y2="531.70" stroke="#3d9a45" stroke-width="0.9" />
<line x1="319.00" y1="514.10" x2="321.00" y2="514.10" stroke="#3d9a45" stroke-width="0.9" />
<line x1="319.00" y1="531.70" x2="321.00" y2="531.70" stroke="#3d9a45" stroke-width="0.9" />
<rect x="318.70" y="516.80" width="2.60" height="14.40" fill="#3d9a45" rx="0.8"/>
<line x1="318.70" y1="527.50" x2="321.30" y2="527.50" stroke="#333" stroke-width="0.7" stroke-opacity="0.6"/>
<line x1="324.55" y1="521.00" x2="324.55" y2="545.60" stroke="#c8102e" stroke-width="0.9" />
<line x1="323.55" y1="521.00" x2="325.55" y2="521.00" stroke="#c8102e" stroke-width="0.9" />
<line x1="323.55" y1="545.60" x2="325.55" y2="545.60" stroke="#c8102e" stroke-width="0.9" />
<rect x="323.20" y="522.60" width="2.70" height="17.70" fill="#c8102e" rx="0.8"/>
<line x1="329.40" y1="533.30" x2="329.40" y2="563.30" stroke="#f2a31e" stroke-width="0.9" />
<line x1="328.40" y1="533.30" x2="330.40" y2="533.30" stroke="#f2a31e" stroke-width="0.9" />
<line x1="328.40" y1="563.30" x2="330.40" y2="563.30" stroke="#f2a31e" stroke-width="0.9" />
<rect x="328.00" y="541.40" width="2.80" height="20.30" fill="#f2a31e" rx="0.8"/>
<line x1="328.00" y1="554.40" x2="330.80" y2="554.40" stroke="#333" stroke-width="0.7" stroke-opacity="0.6"/>
<line x1="350.75" y1="515.00" x2="350.75" y2="522.50" stroke="#f2a31e" stroke-width="0.9" />
<line x1="349.75" y1="515.00" x2="351.75" y2="515.00" stroke="#f2a31e" stroke-width="0.9" />
<line x1="349.75" y1="522.50" x2="351.75" y2="522.50" stroke="#f2a31e" stroke-width="0.9" />
<rect x="349.60" y="516.00" width="2.30" height="6.00" fill="#f2a31e" rx="0.8"/>
<line x1="269.20" y1="505.00" x2="269.20" y2="581.30" stroke="#222" stroke-width="1.3" />
<line x1="268.60" y1="580.70" x2="353.20" y2="580.70" stroke="#222" stroke-width="1.3" />
<line x1="266.20" y1="580.50" x2="269.20" y2="580.50" stroke="#222" stroke-width="0.9" />
<text x="262.70" y="582.58" font-size="6.6" text-anchor="end"  stroke="#1f1f1f" stroke-width="0.12">0</text>
<line x1="266.20" y1="565.61" x2="269.20" y2="565.61" stroke="#222" stroke-width="0.9" />
<text x="262.70" y="567.69" font-size="6.6" text-anchor="end"  stroke="#1f1f1f" stroke-width="0.12">20</text>
<line x1="266.20" y1="550.72" x2="269.20" y2="550.72" stroke="#222" stroke-width="0.9" />
<text x="262.70" y="552.80" font-size="6.6" text-anchor="end"  stroke="#1f1f1f" stroke-width="0.12">40</text>
<line x1="266.20" y1="535.83" x2="269.20" y2="535.83" stroke="#222" stroke-width="0.9" />
<text x="262.70" y="537.91" font-size="6.6" text-anchor="end"  stroke="#1f1f1f" stroke-width="0.12">60</text>
<line x1="266.20" y1="520.94" x2="269.20" y2="520.94" stroke="#222" stroke-width="0.9" />
<text x="262.70" y="523.02" font-size="6.6" text-anchor="end"  stroke="#1f1f1f" stroke-width="0.12">80</text>
<line x1="266.20" y1="506.05" x2="269.20" y2="506.05" stroke="#222" stroke-width="0.9" />
<text x="262.70" y="508.13" font-size="6.6" text-anchor="end"  stroke="#1f1f1f" stroke-width="0.12">100</text>
<line x1="279.70" y1="580.70" x2="279.70" y2="583.40" stroke="#222" stroke-width="0.9" />
<text x="278.60" y="591.80" font-size="6.3" text-anchor="middle"  stroke="#1f1f1f" stroke-width="0.12">16-24</text>
<line x1="300.50" y1="580.70" x2="300.50" y2="583.40" stroke="#222" stroke-width="0.9" />
<text x="301.00" y="591.80" font-size="6.3" text-anchor="middle"  stroke="#1f1f1f" stroke-width="0.12">30-38</text>
<line x1="321.50" y1="580.70" x2="321.50" y2="583.40" stroke="#222" stroke-width="0.9" />
<text x="321.60" y="591.80" font-size="6.3" text-anchor="middle"  stroke="#1f1f1f" stroke-width="0.12">54-68</text>
<line x1="343.50" y1="580.70" x2="343.50" y2="583.40" stroke="#222" stroke-width="0.9" />
<text x="344.80" y="591.80" font-size="6.3" text-anchor="middle"  stroke="#1f1f1f" stroke-width="0.12">90</text>
<text x="279.20" y="578.40" font-size="5.6" text-anchor="middle" textLength="11.50" lengthAdjust="spacingAndGlyphs"  stroke="#1f1f1f" stroke-width="0.12">&lt;1%</text>
<text x="311.90" y="605.00" font-size="8.6" text-anchor="middle" textLength="35.20" lengthAdjust="spacingAndGlyphs"  stroke="#1f1f1f" stroke-width="0.22">Days range</text>
<text x="246.30" y="543.10" font-size="8.3" text-anchor="middle" textLength="38.70" lengthAdjust="spacingAndGlyphs" transform="rotate(-90 246.30 543.10)"  stroke="#1f1f1f" stroke-width="0.12">% T-ALL cells</text>
<text x="369.90" y="476.20" font-size="12.3" fill="#111" font-weight="bold" stroke="#111" stroke-width="0.35">L</text>
<polyline points="448.00,506.70 456.20,506.70 456.20,543.70 466.00,543.70 466.00,580.70" fill="none" stroke="#f2a31e" stroke-width="1.3" />
<polyline points="427.00,506.70 441.40,506.70 441.40,543.70 450.60,543.70 450.60,580.70" fill="none" stroke="#3d9a45" stroke-width="1.3" />
<polyline points="402.70,506.70 448.80,506.70 448.80,520.00 449.30,520.00 449.30,543.70 450.40,543.70 450.40,562.30 455.40,562.30 455.40,580.70" fill="none" stroke="#cf1038" stroke-width="1.3" />
<polyline points="402.70,506.70 427.40,506.70 427.40,511.80 430.80,511.80 430.80,522.20 431.80,522.20 431.80,551.50 435.20,551.50 435.20,565.90 441.40,565.90 441.40,575.60 450.50,575.60 450.50,580.70" fill="none" stroke="#50555c" stroke-width="1.3" />
<line x1="402.70" y1="505.20" x2="402.70" y2="581.30" stroke="#222" stroke-width="1.3" />
<line x1="402.10" y1="580.70" x2="475.70" y2="580.70" stroke="#222" stroke-width="1.3" />
<line x1="399.70" y1="580.70" x2="402.70" y2="580.70" stroke="#222" stroke-width="0.9" />
<text x="396.20" y="582.78" font-size="6.6" text-anchor="end"  stroke="#1f1f1f" stroke-width="0.12">0</text>
<line x1="399.70" y1="565.90" x2="402.70" y2="565.90" stroke="#222" stroke-width="0.9" />
<text x="396.20" y="567.98" font-size="6.6" text-anchor="end"  stroke="#1f1f1f" stroke-width="0.12">20</text>
<line x1="399.70" y1="551.10" x2="402.70" y2="551.10" stroke="#222" stroke-width="0.9" />
<text x="396.20" y="553.18" font-size="6.6" text-anchor="end"  stroke="#1f1f1f" stroke-width="0.12">40</text>
<line x1="399.70" y1="536.30" x2="402.70" y2="536.30" stroke="#222" stroke-width="0.9" />
<text x="396.20" y="538.38" font-size="6.6" text-anchor="end"  stroke="#1f1f1f" stroke-width="0.12">60</text>
<line x1="399.70" y1="521.50" x2="402.70" y2="521.50" stroke="#222" stroke-width="0.9" />
<text x="396.20" y="523.58" font-size="6.6" text-anchor="end"  stroke="#1f1f1f" stroke-width="0.12">80</text>
<line x1="399.70" y1="506.70" x2="402.70" y2="506.70" stroke="#222" stroke-width="0.9" />
<text x="396.20" y="508.78" font-size="6.6" text-anchor="end"  stroke="#1f1f1f" stroke-width="0.12">100</text>
<line x1="402.70" y1="580.70" x2="402.70" y2="583.50" stroke="#222" stroke-width="0.9" />
<text x="402.70" y="593.08" font-size="6.6" text-anchor="middle"  stroke="#1f1f1f" stroke-width="0.12">0</text>
<line x1="416.55" y1="580.70" x2="416.55" y2="583.50" stroke="#222" stroke-width="0.9" />
<text x="416.55" y="593.08" font-size="6.6" text-anchor="middle"  stroke="#1f1f1f" stroke-width="0.12">20</text>
<line x1="430.40" y1="580.70" x2="430.40" y2="583.50" stroke="#222" stroke-width="0.9" />
<text x="430.40" y="593.08" font-size="6.6" text-anchor="middle"  stroke="#1f1f1f" stroke-width="0.12">40</text>
<line x1="444.25" y1="580.70" x2="444.25" y2="583.50" stroke="#222" stroke-width="0.9" />
<text x="444.25" y="593.08" font-size="6.6" text-anchor="middle"  stroke="#1f1f1f" stroke-width="0.12">60</text>
<line x1="458.10" y1="580.70" x2="458.10" y2="583.50" stroke="#222" stroke-width="0.9" />
<text x="458.10" y="593.08" font-size="6.6" text-anchor="middle"  stroke="#1f1f1f" stroke-width="0.12">80</text>
<line x1="471.95" y1="580.70" x2="471.95" y2="583.50" stroke="#222" stroke-width="0.9" />
<text x="471.95" y="593.08" font-size="6.6" text-anchor="middle"  stroke="#1f1f1f" stroke-width="0.12">100</text>
<text x="439.40" y="605.80" font-size="9.3" text-anchor="middle" textLength="14.10" lengthAdjust="spacingAndGlyphs"  stroke="#1f1f1f" stroke-width="0.22">Days</text>
<text x="379.30" y="542.30" font-size="7.9" text-anchor="middle" textLength="67.70" lengthAdjust="spacingAndGlyphs" transform="rotate(-90 379.30 542.30)"  stroke="#1f1f1f" stroke-width="0.12">Probability of survival</text>
<line x1="463.80" y1="502.00" x2="470.80" y2="502.00" stroke="#34345c" stroke-width="1.2" />
<text x="473.10" y="504.00" font-size="5.8" textLength="11.00" lengthAdjust="spacingAndGlyphs"  stroke="#1f1f1f" stroke-width="0.12">CTR</text>
<line x1="463.80" y1="509.70" x2="470.80" y2="509.70" stroke="#cf1038" stroke-width="1.2" />
<text x="473.10" y="511.70" font-size="5.8" textLength="34.60" lengthAdjust="spacingAndGlyphs"  stroke="#1f1f1f" stroke-width="0.12">Daunorubicin</text>
<line x1="463.80" y1="517.70" x2="470.80" y2="517.70" stroke="#3d9a45" stroke-width="1.2" />
<text x="473.10" y="519.70" font-size="5.8" textLength="25.00" lengthAdjust="spacingAndGlyphs"  stroke="#1f1f1f" stroke-width="0.12">Linsitinib</text>
<line x1="463.80" y1="525.70" x2="470.80" y2="525.70" stroke="#f2a31e" stroke-width="1.2" />
<text x="473.10" y="527.70" font-size="5.8" textLength="48.00" lengthAdjust="spacingAndGlyphs"  stroke="#1f1f1f" stroke-width="0.12">Dauno + Linsitinib</text>
<text x="463.80" y="535.40" font-size="5.7" textLength="23.90" lengthAdjust="spacingAndGlyphs"  stroke="#1f1f1f" stroke-width="0.12">p&lt;0.0001</text>
</g>
</svg></body></html>
